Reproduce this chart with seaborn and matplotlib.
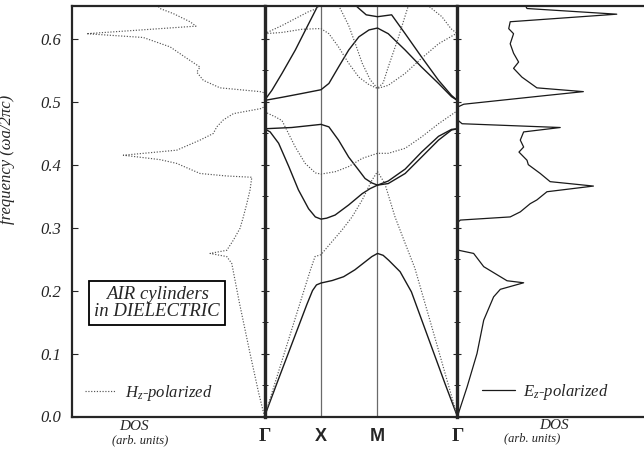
import numpy as np
import matplotlib
matplotlib.use("Agg")
import matplotlib.pyplot as plt
from matplotlib.lines import Line2D
import seaborn as sns

# ---------------- data ----------------
# k-path positions (Gamma, X, M, Gamma) for square lattice
k_points = [0.0, 1.0, 2.0, 2.0 + np.sqrt(2.0)]
k_labels = ["Γ", "X", "M", "Γ"]

# E_z-polarized (TM) bands, solid
tm1_k = [0, 0.25, 0.5, 0.75, 0.85, 0.92, 1.0, 1.2, 1.4, 1.6, 1.8, 1.9, 2.0, 2.1, 2.2, 2.4, 2.6, 2.8, 3.0, 3.2, 3.414]
tm1_f = [0, 0.060, 0.119, 0.178, 0.200, 0.209, 0.212, 0.216, 0.222, 0.233, 0.247, 0.254, 0.259, 0.256, 0.248, 0.230, 0.198, 0.149, 0.100, 0.051, 0]
tm2_k = [0, 0.1, 0.25, 0.43, 0.6, 0.78, 0.9, 1.0, 1.1, 1.25, 1.49, 1.73, 1.87, 2.0, 2.19, 2.49, 2.78, 3.08, 3.31, 3.414]
tm2_f = [0.457, 0.452, 0.434, 0.397, 0.360, 0.330, 0.317, 0.3135, 0.315, 0.320, 0.336, 0.354, 0.362, 0.3675, 0.370, 0.386, 0.412, 0.439, 0.455, 0.457]
tm3_k = [0, 0.48, 0.9, 1.0, 1.14, 1.31, 1.49, 1.67, 1.78, 1.9, 2.0, 2.19, 2.49, 2.78, 3.08, 3.31, 3.414]
tm3_f = [0.457, 0.459, 0.463, 0.464, 0.460, 0.439, 0.412, 0.391, 0.378, 0.371, 0.3675, 0.374, 0.393, 0.420, 0.445, 0.456, 0.457]
tm4_k = [0, 0.31, 0.66, 1.0, 1.14, 1.31, 1.49, 1.67, 1.85, 2.0, 2.19, 2.49, 2.78, 3.08, 3.31, 3.414]
tm4_f = [0.502, 0.507, 0.513, 0.519, 0.529, 0.555, 0.582, 0.603, 0.614, 0.617, 0.608, 0.582, 0.555, 0.529, 0.508, 0.502]
tm5_k = [0, 0.13, 0.31, 0.545, 0.72, 0.93, 1.0, 1.3, 1.66, 1.8, 2.0, 2.25, 2.49, 2.78, 3.08, 3.31, 3.414]
tm5_f = [0.502, 0.518, 0.545, 0.582, 0.613, 0.650, 0.660, 0.680, 0.649, 0.638, 0.635, 0.638, 0.608, 0.571, 0.534, 0.510, 0.502]

# H_z-polarized (TE) bands, dotted
te1_k = [0, 0.3, 0.6, 0.81, 0.894, 1.0, 1.14, 1.37, 1.55, 1.73, 1.9, 2.0, 2.13, 2.31, 2.49, 2.66, 3.02, 3.414]
te1_f = [0, 0.086, 0.172, 0.232, 0.254, 0.257, 0.272, 0.296, 0.317, 0.344, 0.375, 0.389, 0.370, 0.317, 0.275, 0.236, 0.124, 0]
te2_k = [0, 0.19, 0.31, 0.545, 0.72, 0.9, 1.0, 1.26, 1.49, 1.73, 2.0, 2.19, 2.49, 2.78, 3.08, 3.37, 3.414]
te2_f = [0.484, 0.476, 0.470, 0.428, 0.402, 0.387, 0.385, 0.389, 0.397, 0.410, 0.418, 0.418, 0.426, 0.444, 0.465, 0.483, 0.484]
te3_k = [0, 0.31, 0.66, 0.93, 1.0, 1.14, 1.31, 1.49, 1.67, 1.85, 2.0, 2.19, 2.49, 2.78, 3.08, 3.37, 3.414]
te3_f = [0.608, 0.610, 0.615, 0.616, 0.616, 0.608, 0.587, 0.561, 0.539, 0.527, 0.521, 0.526, 0.545, 0.569, 0.592, 0.607, 0.608]
te4_k = [0, 0.31, 0.545, 0.78, 0.93, 1.0, 1.15, 1.34, 1.49, 1.6, 1.73, 1.87, 2.0, 2.1, 2.19, 2.37, 2.53, 2.7, 2.93, 3.14, 3.3, 3.414]
te4_f = [0.608, 0.621, 0.632, 0.643, 0.648, 0.660, 0.670, 0.648, 0.621, 0.594, 0.561, 0.535, 0.521, 0.530, 0.555, 0.602, 0.648, 0.690, 0.650, 0.635, 0.616, 0.608]

# Densities of states (arb. units)
te_dos_f = [0, 0.037, 0.1, 0.18, 0.243, 0.254, 0.259, 0.264, 0.28, 0.299, 0.317, 0.338, 0.36, 0.38, 0.382, 0.386,
            0.402, 0.408, 0.415, 0.423, 0.439, 0.4495, 0.46, 0.471, 0.481, 0.489, 0.492, 0.514, 0.516, 0.522,
            0.534, 0.547, 0.555, 0.569, 0.587, 0.602, 0.608, 0.62, 0.627, 0.64, 0.648, 0.655]
te_dos_d = [0, 0.03, 0.075, 0.13, 0.17, 0.196, 0.283, 0.196, 0.162, 0.127, 0.11, 0.092, 0.075, 0.066, 0.196, 0.335,
            0.456, 0.543, 0.733, 0.456, 0.335, 0.266, 0.248, 0.214, 0.162, 0.02, 0.0, 0.0, 0.023, 0.231,
            0.318, 0.352, 0.335, 0.404, 0.49, 0.63, 0.924, 0.356, 0.387, 0.474, 0.543, 0.56]
tm_dos_f = [0, 0.047, 0.1, 0.153, 0.19, 0.202, 0.2124, 0.2156, 0.238, 0.259, 0.264, 0.27, 0.308, 0.312, 0.317,
            0.325, 0.338, 0.344, 0.357, 0.366, 0.373, 0.386, 0.4, 0.407, 0.42, 0.428, 0.439, 0.452, 0.459,
            0.465, 0.47, 0.492, 0.496, 0.51, 0.516, 0.522, 0.539, 0.553, 0.563, 0.577, 0.592, 0.608, 0.616,
            0.627, 0.639, 0.648, 0.655]
tm_dos_d = [0, 0.052, 0.105, 0.141, 0.194, 0.23, 0.355, 0.266, 0.141, 0.087, 0.007, 0.0, 0.0, 0.016, 0.283,
            0.337, 0.39, 0.426, 0.48, 0.729, 0.497, 0.444, 0.38, 0.373, 0.33, 0.355, 0.337, 0.355, 0.551,
            0.025, 0.005, 0.005, 0.034, 0.48, 0.675, 0.426, 0.346, 0.301, 0.328, 0.301, 0.283, 0.301, 0.275,
            0.283, 0.854, 0.373, 0.36]

y_ticks = [0.0, 0.1, 0.2, 0.3, 0.4, 0.5, 0.6]

# ---------------- style ----------------
sns.set_style("white")
plt.rcParams['font.family'] = ['Liberation Serif', 'DejaVu Serif']
plt.rcParams['mathtext.fontset'] = 'custom'
plt.rcParams['mathtext.it'] = 'Liberation Serif:italic'
plt.rcParams['mathtext.rm'] = 'Liberation Serif'

W, H = 644, 450
fig = plt.figure(figsize=(W / 100, H / 100), dpi=100)

x0, xg1, xg2, x3 = 72, 264.5, 457.4, 644
ytop, ybot = 6, 416.5
bot = 1 - ybot / H
hgt = (ybot - ytop) / H
axL = fig.add_axes([x0 / W, bot, (xg1 - x0) / W, hgt])
axB = fig.add_axes([xg1 / W, bot, (xg2 - xg1) / W, hgt])
axR = fig.add_axes([xg2 / W, bot, (x3 - xg2) / W, hgt])

YMAX = 0.652
solid_c = '#1a1a1a'
dot_c = '#555555'
dot_ls = (0, (1.0, 1.4))

# ---------------- band structure ----------------
for kk, ff in [(tm1_k, tm1_f), (tm2_k, tm2_f), (tm3_k, tm3_f), (tm4_k, tm4_f), (tm5_k, tm5_f)]:
    sns.lineplot(x=kk, y=ff, sort=False, estimator=None, ax=axB, color=solid_c, lw=1.0)
for kk, ff in [(te1_k, te1_f), (te2_k, te2_f), (te3_k, te3_f), (te4_k, te4_f)]:
    sns.lineplot(x=kk, y=ff, sort=False, estimator=None, ax=axB, color=dot_c, lw=0.85, linestyle=dot_ls)
for kp in k_points[1:3]:
    axB.axvline(kp, color='#6a6a6a', lw=0.9, zorder=0)
axB.set_xlim(k_points[0], k_points[-1])
axB.set_ylim(0, YMAX)
axB.set_xticks(k_points)
axB.set_xticklabels(k_labels)
for lbl, txt in zip(axB.get_xticklabels(), k_labels):
    if txt == "Γ":
        lbl.set_fontfamily(['Liberation Serif'])
        lbl.set_fontweight('bold')
        lbl.set_fontsize(14)
    else:
        lbl.set_fontfamily(['Liberation Sans'])
        lbl.set_fontweight('bold')
        lbl.set_fontsize(13)
axB.tick_params(axis='x', length=0, pad=8)
axB.set_yticks(y_ticks)
axB.set_yticks(np.arange(0.05, 0.65, 0.1), minor=True)
axB.tick_params(axis='y', which='major', left=True, right=True, direction='inout', length=6, width=0.8, labelleft=False)
axB.tick_params(axis='y', which='minor', left=True, right=True, direction='inout', length=4, width=0.7)
for side in ['left', 'right']:
    axB.spines[side].set_linewidth(2.4)
for side in ['top', 'bottom']:
    axB.spines[side].set_linewidth(1.6)
axB.set_xlabel('')
axB.set_ylabel('')

# ---------------- left DOS (H_z) ----------------
sns.lineplot(x=te_dos_d, y=te_dos_f, sort=False, estimator=None, ax=axL, color=dot_c, lw=0.85, linestyle=dot_ls)
axL.set_xlim(1.0, 0.0)
axL.set_ylim(0, YMAX)
axL.set_xticks([])
axL.set_yticks(y_ticks)
axL.set_yticklabels([f"{v:.1f}" for v in y_ticks], fontsize=12, style='italic')
axL.tick_params(axis='y', left=True, direction='in', length=4, width=0.8, pad=8)
axL.spines['right'].set_visible(False)
for side in ['left', 'top', 'bottom']:
    axL.spines[side].set_linewidth(1.6)
axL.set_xlabel('')
axL.set_ylabel('frequency (ωa/2πc)', fontsize=12, style='italic')
axL.yaxis.set_label_coords((15 - x0) / (xg1 - x0), (ybot - 159) / (ybot - ytop))
axL.text((157 - x0) / (xg1 - x0), 0.18 / YMAX, 'AIR cylinders\nin DIELECTRIC', transform=axL.transAxes,
         ha='center', va='center', fontsize=13.5, style='italic', linespacing=0.95,
         bbox=dict(boxstyle='square,pad=0.28', fc='white', ec='black', lw=1.3))
h_te = Line2D([], [], color=dot_c, lw=0.85, linestyle=dot_ls)
axL.legend([h_te], [r'$H_z$-polarized'], loc='center left', frameon=False,
           bbox_to_anchor=((85 - x0) / (xg1 - x0), 0.0373 / YMAX), borderaxespad=0, borderpad=0,
           handlelength=1.8, handletextpad=0.6, prop={'size': 12, 'style': 'italic'})

# ---------------- right DOS (E_z) ----------------
sns.lineplot(x=tm_dos_d, y=tm_dos_f, sort=False, estimator=None, ax=axR, color=solid_c, lw=0.9)
axR.set_xlim(0.0, 1.0)
axR.set_ylim(0, YMAX)
axR.set_xticks([])
axR.set_yticks([])
axR.spines['left'].set_visible(False)
axR.spines['right'].set_visible(False)
for side in ['top', 'bottom']:
    axR.spines[side].set_linewidth(1.6)
axR.set_xlabel('')
axR.set_ylabel('')
h_tm = Line2D([], [], color=solid_c, lw=0.9)
axR.legend([h_tm], [r'$E_z$-polarized'], loc='center left', frameon=False,
           bbox_to_anchor=((481.7 - xg2) / (x3 - xg2), 0.0394 / YMAX), borderaxespad=0, borderpad=0,
           handlelength=2.0, handletextpad=0.5, prop={'size': 12, 'style': 'italic'})

axB.set_zorder(3)

# ---------------- bottom captions ----------------
def ftext(px, py, s, **kw):
    fig.text(px / W, 1 - py / H, s, ha='center', va='center', **kw)

ftext(134, 426.5, 'DOS', fontsize=11, style='italic')
ftext(140, 440, '(arb. units)', fontsize=9, style='italic')
ftext(554, 425.5, 'DOS', fontsize=11, style='italic')
ftext(532, 438, '(arb. units)', fontsize=9, style='italic')

fig.savefig('out.png', dpi=100)
